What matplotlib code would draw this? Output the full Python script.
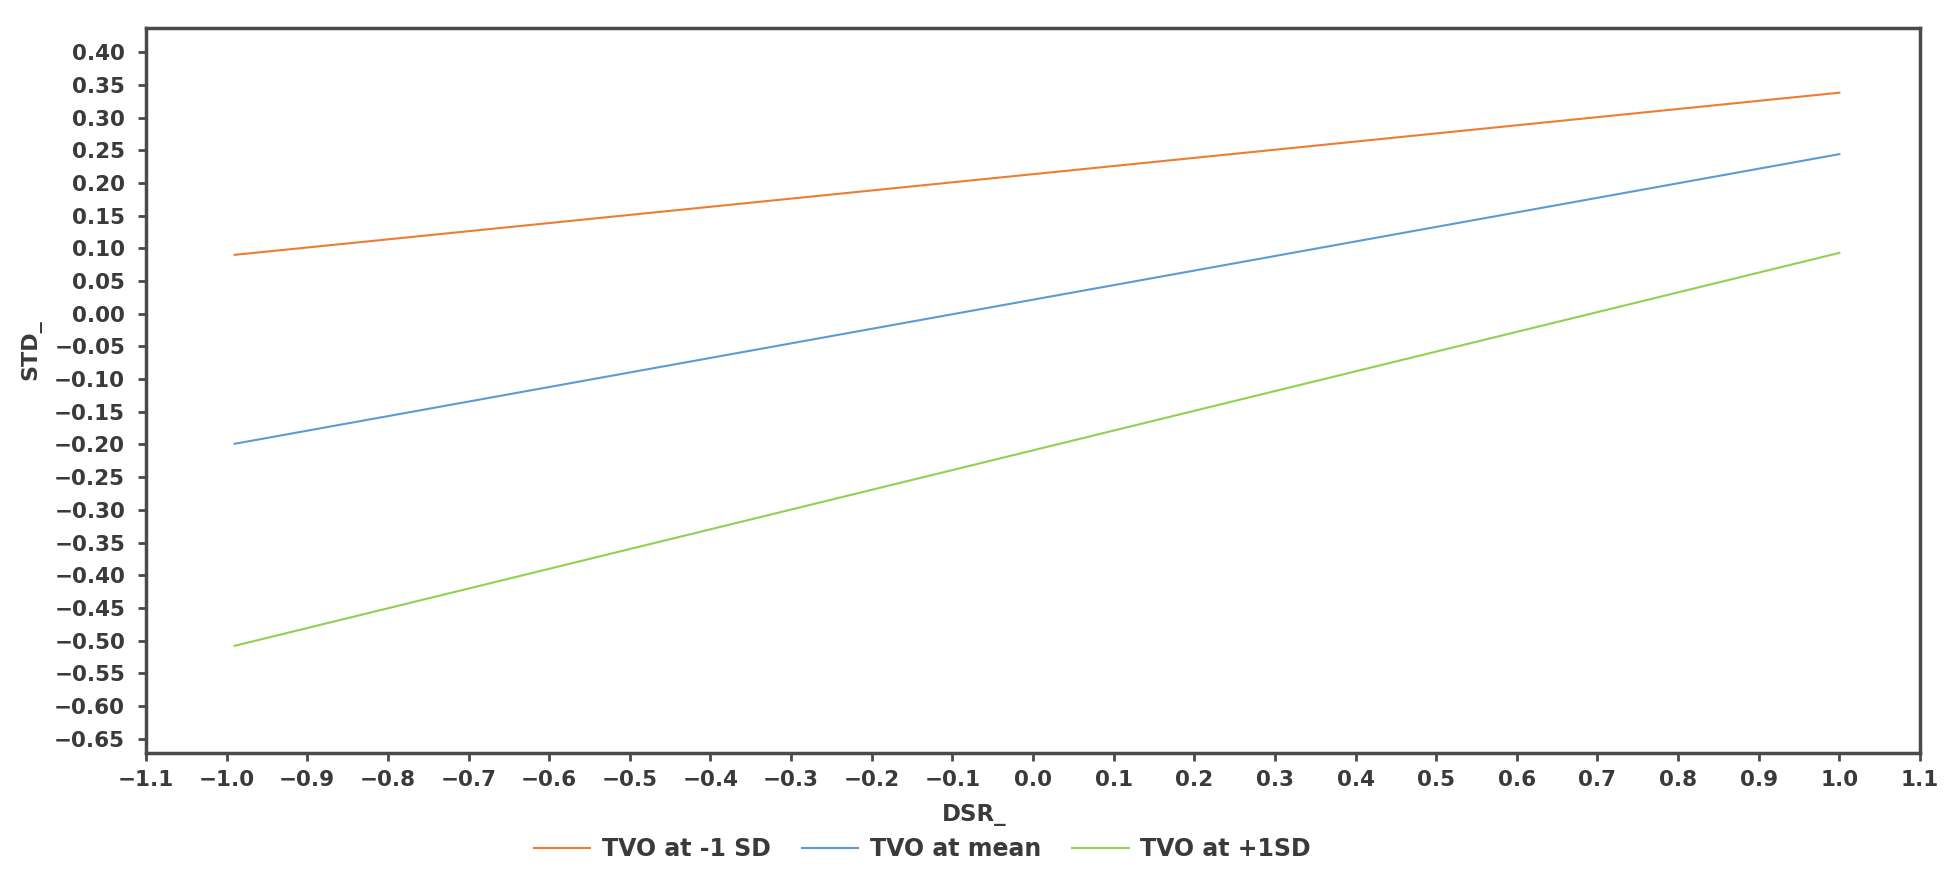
import numpy as np
import matplotlib.pyplot as plt

# simple slopes: STD_ vs DSR_ at three levels of TVO
dsr = [-0.99, 1.0]
tvo_low = [0.090, 0.338]
tvo_mean = [-0.199, 0.244]
tvo_high = [-0.508, 0.093]

labels = ['TVO at -1 SD', 'TVO at mean', 'TVO at +1SD']
colors = ['#ED7D31', '#5B9BD5', '#92D050']

xticks = np.round(np.arange(-1.1, 1.11, 0.1), 1)
yticks = np.round(np.arange(-0.65, 0.401, 0.05), 2)

plt.rcParams['font.family'] = 'DejaVu Sans'
axcol = '#4a4a4a'
txtcol = '#3a3a3a'

def fmt(v, nd):
    s = '%.*f' % (nd, v)
    if s.startswith('-0.') and float(s) == 0:
        s = s[1:]
    return s.replace('-', '\u2212')

fig = plt.figure(figsize=(19.54, 8.74), dpi=100)
ax = fig.add_axes([0.0747, 0.1384, 0.9079, 0.8296])

for ys, lab, c in zip([tvo_low, tvo_mean, tvo_high], labels, colors):
    ax.plot(dsr, ys, color=c, lw=1.5, label=lab)

ax.set_xlim(-1.1, 1.1)
ax.set_ylim(-0.672, 0.437)
ax.set_xticks(xticks)
ax.set_yticks(yticks)
ax.set_xticklabels([fmt(v, 1) for v in xticks], fontweight='bold')
ax.set_yticklabels([fmt(v, 2) for v in yticks], fontweight='bold')

for s in ax.spines.values():
    s.set_linewidth(2.5)
    s.set_color(axcol)

ax.tick_params(axis='both', direction='out', length=6, width=2, color=axcol,
               labelsize=15.5, labelcolor=txtcol)
ax.tick_params(axis='x', pad=6.5)
ax.tick_params(axis='y', pad=9)

ax.set_xlabel('DSR_', fontsize=16.5, fontweight='bold', color=txtcol)
ax.xaxis.set_label_coords(0.467, -0.069)
ax.set_ylabel('STD_', fontsize=16, fontweight='bold', color=txtcol)
ax.yaxis.set_label_coords(-0.059, 0.557)

fig.legend(loc='center', bbox_to_anchor=(0.472, 0.0286), ncol=3, frameon=False,
           prop={'size': 17, 'weight': 'bold'}, handlelength=2.4,
           handletextpad=0.5, columnspacing=1.3, labelcolor=txtcol)

fig.savefig('out.png', dpi=100, facecolor='white')
